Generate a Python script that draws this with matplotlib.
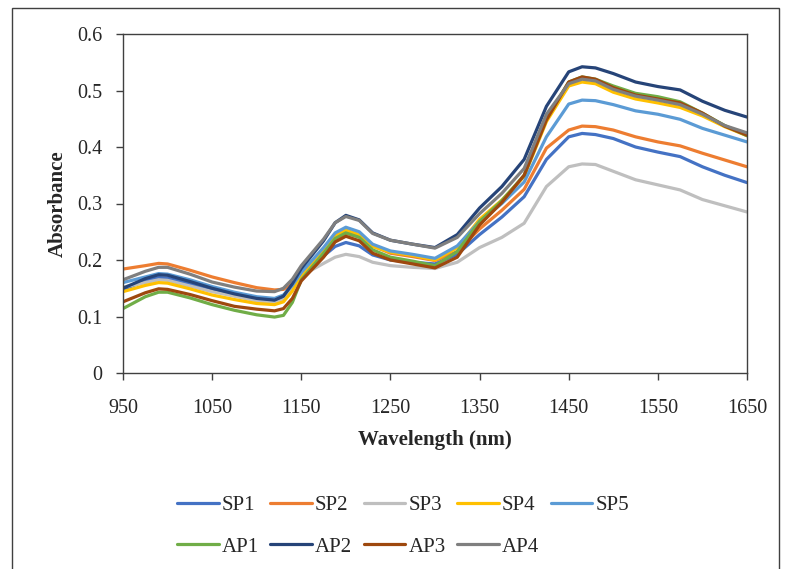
import matplotlib
matplotlib.use("Agg")
import matplotlib.pyplot as plt
from matplotlib.patches import Rectangle

plt.rcParams['font.family'] = ['Liberation Serif', 'DejaVu Serif']

wavelength = [950, 975, 990, 1000, 1025, 1050, 1075, 1100, 1120, 1130, 1140, 1150, 1175,
              1188, 1200, 1215, 1230, 1250, 1275, 1300, 1325, 1350, 1375, 1400, 1425,
              1450, 1465, 1480, 1500, 1525, 1550, 1575, 1600, 1625, 1650]

SP1 = [0.148, 0.163, 0.169, 0.168, 0.158, 0.147, 0.137, 0.129, 0.126, 0.131, 0.150, 0.172, 0.207,
       0.224, 0.231, 0.225, 0.209, 0.200, 0.196, 0.193, 0.210, 0.245, 0.276, 0.312, 0.378,
       0.418, 0.424, 0.422, 0.415, 0.400, 0.391, 0.383, 0.365, 0.350, 0.337]
SP2 = [0.184, 0.190, 0.194, 0.193, 0.182, 0.170, 0.160, 0.151, 0.147, 0.148, 0.158, 0.172, 0.210,
       0.235, 0.247, 0.242, 0.225, 0.212, 0.206, 0.199, 0.215, 0.255, 0.288, 0.325, 0.398,
       0.430, 0.437, 0.436, 0.430, 0.418, 0.409, 0.402, 0.389, 0.377, 0.365]
SP3 = [0.152, 0.160, 0.165, 0.164, 0.154, 0.144, 0.136, 0.128, 0.124, 0.130, 0.150, 0.172, 0.194,
       0.205, 0.210, 0.206, 0.196, 0.190, 0.187, 0.185, 0.196, 0.222, 0.240, 0.265, 0.330,
       0.365, 0.370, 0.369, 0.357, 0.342, 0.333, 0.324, 0.307, 0.296, 0.285]
SP4 = [0.144, 0.155, 0.160, 0.159, 0.149, 0.138, 0.130, 0.123, 0.121, 0.126, 0.145, 0.173, 0.217,
       0.243, 0.253, 0.245, 0.224, 0.214, 0.208, 0.200, 0.222, 0.272, 0.306, 0.348, 0.445,
       0.508, 0.515, 0.512, 0.497, 0.485, 0.478, 0.470, 0.455, 0.436, 0.420]
SP5 = [0.160, 0.170, 0.176, 0.175, 0.165, 0.153, 0.143, 0.135, 0.132, 0.138, 0.155, 0.178, 0.222,
       0.248, 0.258, 0.250, 0.228, 0.216, 0.210, 0.203, 0.225, 0.268, 0.300, 0.338, 0.418,
       0.476, 0.483, 0.482, 0.475, 0.464, 0.458, 0.449, 0.433, 0.421, 0.409]
AP1 = [0.114, 0.135, 0.143, 0.143, 0.133, 0.121, 0.111, 0.103, 0.099, 0.102, 0.125, 0.165, 0.212,
       0.238, 0.248, 0.240, 0.218, 0.205, 0.198, 0.190, 0.215, 0.268, 0.305, 0.350, 0.450,
       0.515, 0.524, 0.520, 0.508, 0.495, 0.489, 0.480, 0.460, 0.438, 0.420]
AP2 = [0.150, 0.167, 0.174, 0.173, 0.162, 0.150, 0.140, 0.132, 0.129, 0.136, 0.158, 0.185, 0.234,
       0.266, 0.279, 0.271, 0.248, 0.235, 0.228, 0.222, 0.245, 0.292, 0.330, 0.378, 0.472,
       0.533, 0.542, 0.540, 0.530, 0.515, 0.507, 0.501, 0.481, 0.465, 0.453]
AP3 = [0.126, 0.142, 0.149, 0.148, 0.139, 0.128, 0.118, 0.113, 0.110, 0.114, 0.132, 0.163, 0.205,
       0.232, 0.242, 0.234, 0.212, 0.200, 0.193, 0.186, 0.205, 0.262, 0.302, 0.350, 0.448,
       0.515, 0.524, 0.520, 0.505, 0.492, 0.485, 0.478, 0.460, 0.437, 0.421]
AP4 = [0.165, 0.180, 0.187, 0.187, 0.175, 0.161, 0.152, 0.145, 0.144, 0.150, 0.166, 0.190, 0.237,
       0.266, 0.277, 0.270, 0.247, 0.235, 0.228, 0.221, 0.240, 0.282, 0.318, 0.362, 0.458,
       0.512, 0.520, 0.517, 0.502, 0.490, 0.483, 0.475, 0.458, 0.438, 0.425]

names = ['SP1', 'SP2', 'SP3', 'SP4', 'SP5', 'AP1', 'AP2', 'AP3', 'AP4']
series = [SP1, SP2, SP3, SP4, SP5, AP1, AP2, AP3, AP4]
colors = ['#4472C4', '#ED7D31', '#BFBFBF', '#FFC000', '#5B9BD5',
          '#70AD47', '#264478', '#9E480E', '#7F7F7F']

xticks = [950, 1050, 1150, 1250, 1350, 1450, 1550, 1650]
yticks = [0, 0.1, 0.2, 0.3, 0.4, 0.5, 0.6]
ytick_labels = ['0', '0.1', '0.2', '0.3', '0.4', '0.5', '0.6']

fig = plt.figure(figsize=(7.9, 5.69), dpi=100)
ax = fig.add_axes([123/790, 1-373/569, 624/790, 339/569])

handles = {}
for name, vals, col in zip(names, series, colors):
    ln, = ax.plot(wavelength, vals, color=col, lw=2.3, solid_capstyle='round',
                  solid_joinstyle='round', label=name)
    handles[name] = ln

ax.set_xlim(950, 1650)
ax.set_ylim(0, 0.6)
ax.set_xticks(xticks)
ax.set_xticklabels([str(t) for t in xticks])
ax.set_yticks(yticks)
ax.set_yticklabels(ytick_labels)
ax.tick_params(axis='both', direction='out', length=5, width=1, labelsize=14.5,
               colors='#404040', labelcolor='#262626')
ax.tick_params(axis='x', pad=14)
ax.tick_params(axis='y', pad=10)
for s in ax.spines.values():
    s.set_color('#404040')
    s.set_linewidth(1.0)

ax.set_xlabel('Wavelength (nm)', fontsize=15, fontweight='bold', color='#262626')
ax.set_ylabel('Absorbance', fontsize=15, fontweight='bold', color='#262626')
ax.xaxis.set_label_coords(0.5, -(430 - 373) / 339)
ax.yaxis.set_label_coords(-(123 - 68) / 624, 0.5)

order = ['SP1', 'AP1', 'SP2', 'AP2', 'SP3', 'AP3', 'SP4', 'AP4', 'SP5']
leg = fig.legend([handles[n] for n in order], order, loc='center',
                 bbox_to_anchor=(403/790, 1-526/569), ncol=5, frameon=False,
                 fontsize=15, handlelength=2.0, handletextpad=0.15,
                 columnspacing=0.55, labelspacing=1.05)
for t in leg.get_texts():
    t.set_color('#262626')

fig.patches.append(Rectangle((12/790, -0.05), 767/790, 1-8/569+0.05,
                             transform=fig.transFigure, fill=False,
                             edgecolor='#404040', linewidth=1.0))

fig.savefig('out.png', dpi=100)
